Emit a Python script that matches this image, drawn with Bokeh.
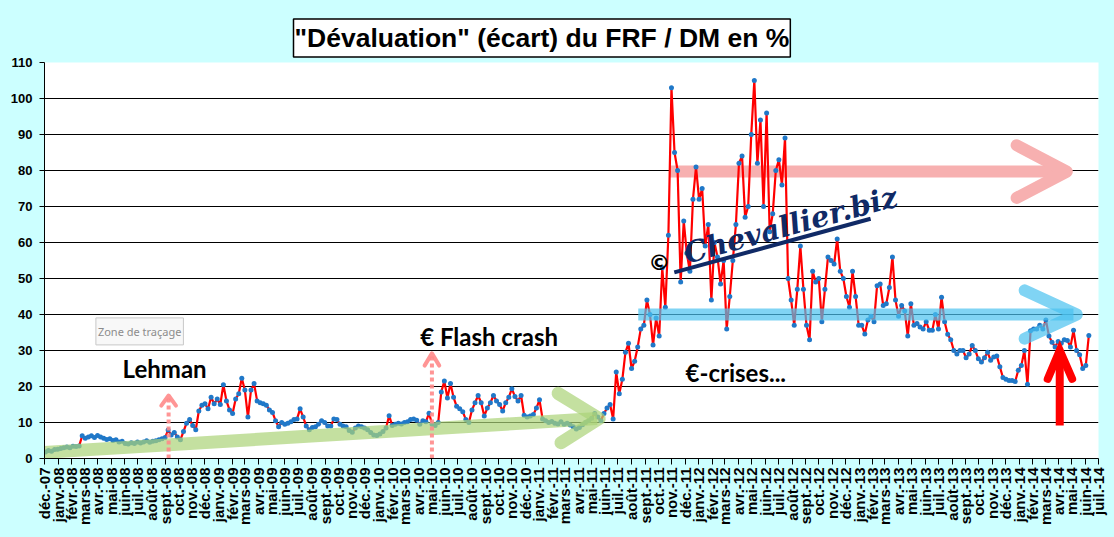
import math
import pandas as pd
from bokeh.plotting import figure
from bokeh.models import Range1d, FixedTicker, Label, GlobalInlineStyleSheet
from bokeh.embed import file_html
from bokeh.resources import INLINE

# ---------------- data ----------------
START = "2007-12-03"          # first weekly observation
VALUES = [
    1.8, 2.2, 2.0, 2.5, 2.6, 2.8, 3.0, 3.2, 3.0, 3.4, 3.3, 3.5,
    6.3, 5.6, 6.0, 6.3, 5.8, 6.4, 6.0, 5.6, 5.3, 5.5, 5.0, 5.2,
    4.6, 4.8, 4.2, 4.0, 4.4, 4.2, 4.6, 4.3, 4.6, 4.9, 4.5, 4.8,
    4.9, 5.2, 5.5, 5.8, 7.9, 6.5, 7.2, 6.0, 5.2, 7.5, 9.8, 10.8,
    9.2, 8.0, 13.2, 14.8, 15.2, 13.8, 17.0, 15.2, 16.5, 15.0, 20.5, 16.0,
    13.5, 12.5, 16.5, 18.0, 22.3, 19.0, 11.5, 19.0, 20.8, 16.0, 15.5, 15.2,
    14.8, 13.5, 12.8, 10.5, 8.8, 10.0, 9.5, 9.8, 10.2, 10.8, 11.0, 13.8,
    11.5, 9.0, 8.0, 8.6, 8.8, 9.5, 10.5, 10.0, 9.0, 9.0, 11.0, 10.8,
    9.5, 9.0, 8.8, 7.8, 7.3, 8.5, 9.0, 8.8, 8.5, 8.0, 7.2, 6.5,
    6.4, 6.8, 7.5, 8.5, 11.9, 9.2, 9.5, 9.8, 9.6, 10.0, 10.2, 10.8,
    11.0, 10.6, 9.5, 10.5, 10.2, 12.6, 9.5, 9.2, 10.0, 18.5, 21.5, 16.8,
    20.8, 17.0, 14.5, 13.8, 13.0, 10.8, 10.0, 13.5, 15.5, 17.5, 15.5, 11.8,
    14.0, 15.5, 17.5, 16.0, 15.0, 13.2, 15.5, 17.0, 19.4, 17.2, 16.0, 17.5,
    12.0, 11.5, 11.8, 12.2, 14.0, 16.3, 11.0, 10.5, 10.0, 10.3, 9.8, 9.6,
    10.2, 9.5, 9.8, 9.3, 8.8, 8.2, 8.6, 9.4, 10.0, 10.5, 11.2, 12.5,
    11.5, 10.5, 12.5, 14.0, 15.0, 11.0, 24.0, 18.0, 22.0, 29.5, 32.0, 25.0,
    27.0, 31.0, 36.0, 37.0, 44.0, 40.0, 31.5, 39.0, 34.0, 53.0, 42.0, 62.0,
    103.0, 85.0, 80.0, 49.0, 66.0, 57.0, 52.0, 72.0, 81.0, 72.0, 75.0, 59.0,
    65.0, 44.0, 60.0, 56.0, 48.5, 55.0, 36.0, 45.0, 55.0, 65.0, 82.0, 84.0,
    67.0, 70.0, 90.0, 105.0, 82.0, 94.0, 70.0, 96.0, 63.0, 68.0, 80.0, 83.0,
    76.0, 89.0, 50.0, 44.0, 37.0, 47.0, 59.0, 47.0, 37.0, 33.0, 52.0, 49.0,
    50.0, 38.0, 47.0, 56.0, 55.0, 54.0, 61.0, 52.0, 50.0, 45.0, 42.0, 52.0,
    45.0, 37.0, 37.0, 34.6, 38.5, 39.5, 38.0, 48.0, 48.5, 42.5, 43.0, 47.5,
    56.0, 44.0, 39.5, 42.5, 41.0, 34.0, 43.0, 37.0, 37.5, 36.5, 36.0, 38.0,
    35.6, 35.6, 40.0, 36.0, 44.8, 38.0, 34.5, 33.0, 30.0, 29.0, 30.0, 30.0,
    28.0, 29.0, 31.4, 30.0, 27.7, 26.8, 28.0, 29.5, 27.3, 28.2, 28.5, 25.5,
    22.5, 22.0, 21.7, 21.7, 21.4, 24.5, 25.8, 30.0, 20.6, 35.5, 36.0, 36.0,
    37.0, 36.0, 38.5, 34.0, 32.3, 31.0, 32.5, 32.0, 33.0, 32.8, 31.0, 35.6,
    30.0, 28.8, 25.0, 25.8, 34.2,
]
MONTHS_FR = ["janv.", "févr.", "mars", "avr.", "mai", "juin",
             "juil.", "août", "sept.", "oct.", "nov.", "déc."]
FIRST_MONTH = "2007-12-01"
LAST_MONTH = "2014-07-01"
Y_TICKS = list(range(0, 111, 10))
TITLE = '"Dévaluation" (écart) du FRF / DM en %'
EVENTS = ["Lehman", "€ Flash crash", "€-crises..."]

# ---------------- helpers ----------------
def ms(ts):
    return pd.Timestamp(ts).value / 1e6

T0 = ms(FIRST_MONTH)
MONTH_MS = 30.44 * 86400000.0

def mpos(m):
    """position m months after the first tick (annotations only)"""
    return T0 + m * MONTH_MS

dates = pd.date_range(START, periods=len(VALUES), freq="7D")
month_starts = pd.date_range(FIRST_MONTH, LAST_MONTH, freq="MS")
tick_ms = [int(d.value // 10**6) for d in month_starts]
tick_labels = [f"{MONTHS_FR[d.month - 1]}-{d.year % 100:02d}" for d in month_starts]

# ---------------- figure ----------------
p = figure(width=1114, height=537, x_axis_type="datetime",
           output_backend="svg", toolbar_location=None,
           x_range=Range1d(tick_ms[0], tick_ms[-1]), y_range=Range1d(0, 110),
           min_border_left=44, min_border_right=16, min_border_top=62,
           min_border_bottom=79,
           background_fill_color="white", border_fill_color="#ccffff",
           outline_line_color=None)
p.stylesheets = [GlobalInlineStyleSheet(css="body{background:#ccffff;}")]

# title (boxed)
p.title.text = TITLE
p.title.align = "left"
p.title.offset = 249
p.title.standoff = 11
p.title.text_font = "Liberation Sans"
p.title.text_font_style = "bold"
p.title.text_font_size = "26.5px"
p.title.text_color = "black"
p.title.background_fill_color = "white"
p.title.border_line_color = "black"
p.title.border_line_width = 1.5
p.title.padding = (1, 4)

xa = p.xaxis[0]
xa.ticker = FixedTicker(ticks=tick_ms)
xa.major_label_overrides = {t: l for t, l in zip(tick_ms, tick_labels)}
xa.major_label_orientation = math.pi / 2
xa.major_label_text_font = "Liberation Sans"
xa.major_label_text_font_style = "bold"
xa.major_label_text_font_size = "15px"
xa.major_label_text_color = "black"
xa.major_tick_out = 6
xa.major_tick_in = 0
xa.minor_tick_out = 0
xa.minor_tick_in = 0
xa.major_label_standoff = 3
xa.axis_line_color = "black"
xa.major_tick_line_color = "black"

ya = p.yaxis[0]
ya.ticker = FixedTicker(ticks=Y_TICKS)
ya.major_label_text_font = "Liberation Sans"
ya.major_label_text_font_style = "bold"
ya.major_label_text_font_size = "13px"
ya.major_label_text_color = "black"
ya.major_tick_out = 5
ya.major_tick_in = 0
ya.minor_tick_out = 0
ya.minor_tick_in = 0
ya.major_label_standoff = 7
ya.axis_line_color = "black"

p.xgrid.visible = False
p.ygrid.ticker = FixedTicker(ticks=Y_TICKS)
p.ygrid.grid_line_color = "black"
p.ygrid.grid_line_width = 1

# ---------------- pink arrow (behind data) ----------------
PINK = "#f7b0b0"
p.line([mpos(46.8), mpos(76.3)], [79.7, 79.7], line_color=PINK, line_width=12)
p.line([mpos(72.84), mpos(76.6), mpos(72.84)], [87.0, 79.7, 72.4],
       line_color=PINK, line_width=12, line_cap="round", line_join="round")

# ---------------- data ----------------
p.line(dates, VALUES, line_color="#ff0000", line_width=2.2)
p.scatter(dates, VALUES, size=5, fill_color="#2078c8", line_color=None)

# ---------------- green trend arrow ----------------
GREEN = "#abd377"
p.line([mpos(0.0), mpos(41.4)], [1.7, 11.1], line_color=GREEN, line_alpha=0.7,
       line_width=13)
p.line([mpos(38.48), mpos(41.56), mpos(38.7)], [18.1, 11.1, 4.4],
       line_color=GREEN, line_alpha=0.7, line_width=13,
       line_cap="round", line_join="round")

# ---------------- blue arrow ----------------
BLUE = "#4ac2ef"
p.line([mpos(44.49), mpos(77.1)], [40.0, 40.0], line_color=BLUE,
       line_alpha=0.7, line_width=12)
p.line([mpos(73.44), mpos(77.35), mpos(73.44)], [46.7, 40.0, 33.3],
       line_color=BLUE, line_alpha=0.7, line_width=12,
       line_cap="round", line_join="round")

# ---------------- red arrow ----------------
p.line([mpos(76.07), mpos(76.07)], [9.2, 29.0], line_color="#ff0000", line_width=8)
p.line([mpos(75.17), mpos(76.07), mpos(77.0)], [22.1, 30.0, 22.1],
       line_color="#ff0000", line_width=8, line_cap="round", line_join="miter")

# ---------------- dotted event arrows ----------------
DOT = "#ff8a8a"
for m, top, arm in [(9.3, 17.5, 14.7), (29.03, 29.2, 25.8)]:
    p.line([mpos(m), mpos(m)], [0, top - 0.8], line_color=DOT, line_width=4,
           line_dash="4 3", line_alpha=0.9)
    p.line([mpos(m - 0.55), mpos(m), mpos(m + 0.55)], [arm, top, arm],
           line_color=DOT, line_width=4, line_alpha=0.9,
           line_cap="round", line_join="round")

# ---------------- texts ----------------
for txt, m, yv in zip(EVENTS, [9.0, 33.31, 51.8], [25.0, 33.9, 24.0]):
    p.add_layout(Label(x=mpos(m), y=yv, text=txt, text_align="center",
                       text_baseline="middle", text_font="Lato",
                       text_font_style="bold", text_font_size="24px",
                       text_color="black"))

p.add_layout(Label(x=mpos(7.13), y=35.3, text="Zone de traçage",
                   text_align="center", text_baseline="middle",
                   text_font="Noto Sans", text_font_size="11px",
                   text_color="#8c8c8c", background_fill_color="#f8f8f8",
                   border_line_color="#c8c8c8", padding=(2, 6)))

# watermark
NAVY = "#102a66"
p.line([mpos(47.19), mpos(61.9)], [51.7, 66.6], line_color=NAVY, line_width=4)
p.add_layout(Label(x=mpos(46.06), y=54.4, text="©", text_align="center",
                   text_baseline="middle", text_font="DejaVu Sans",
                   text_font_style="bold", text_font_size="22px",
                   text_color="black"))
p.add_layout(Label(x=mpos(47.94), y=56.8, text="Chevallier.biz",
                   angle=0.267, text_align="left", text_baseline="alphabetic",
                   text_font="DejaVu Serif", text_font_style="bold italic",
                   text_font_size="29px", text_color=NAVY))

open("out.html", "w").write(file_html(p, INLINE))
